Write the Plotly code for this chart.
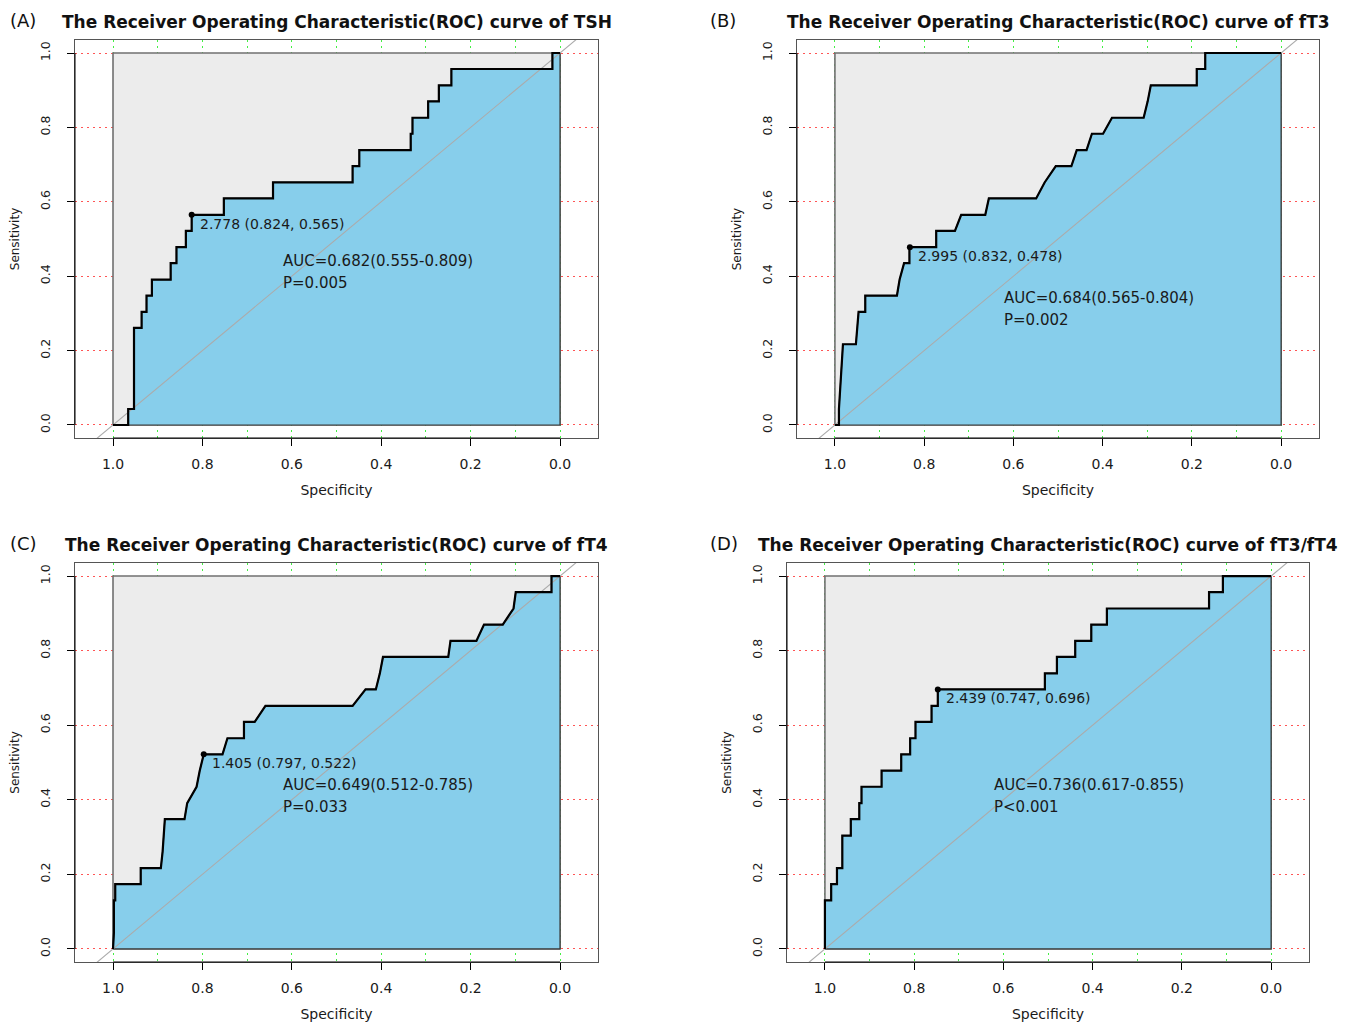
import plotly.graph_objects as go

# ---------------- data ----------------
panel_labels = ["(A)", "(B)", "(C)", "(D)"]
titles = [
    "The Receiver Operating Characteristic(ROC) curve of TSH",
    "The Receiver Operating Characteristic(ROC) curve of fT3",
    "The Receiver Operating Characteristic(ROC) curve of fT4",
    "The Receiver Operating Characteristic(ROC) curve of fT3/fT4",
]

spec_tsh = [1.0, 0.966, 0.966, 0.953, 0.953, 0.936, 0.936, 0.925, 0.925, 0.913, 0.913,
            0.871, 0.871, 0.858, 0.858, 0.837, 0.837, 0.824, 0.824, 0.752, 0.752,
            0.642, 0.642, 0.464, 0.464, 0.449, 0.449, 0.334, 0.334, 0.330, 0.330,
            0.295, 0.295, 0.271, 0.271, 0.243, 0.243, 0.017, 0.017, 0.0]
sens_tsh = [0.0, 0.0, 0.043, 0.043, 0.261, 0.261, 0.304, 0.304, 0.348, 0.348, 0.391,
            0.391, 0.435, 0.435, 0.478, 0.478, 0.522, 0.522, 0.565, 0.565, 0.609,
            0.609, 0.652, 0.652, 0.696, 0.696, 0.739, 0.739, 0.783, 0.783, 0.826,
            0.826, 0.870, 0.870, 0.913, 0.913, 0.957, 0.957, 1.0, 1.0]

spec_ft3 = [1.0, 0.991, 0.991, 0.989, 0.986, 0.985, 0.982, 0.953, 0.950, 0.947, 0.932,
            0.932, 0.861, 0.855, 0.845, 0.833, 0.833, 0.773, 0.773, 0.731, 0.717,
            0.663, 0.655, 0.549, 0.530, 0.505, 0.470, 0.458, 0.436, 0.424, 0.399,
            0.379, 0.308, 0.299, 0.292, 0.189, 0.189, 0.170, 0.170, 0.0]
sens_ft3 = [0.0, 0.0, 0.043, 0.087, 0.130, 0.174, 0.217, 0.217, 0.261, 0.304, 0.304,
            0.348, 0.348, 0.391, 0.435, 0.435, 0.478, 0.478, 0.522, 0.522, 0.565,
            0.565, 0.609, 0.609, 0.652, 0.696, 0.696, 0.739, 0.739, 0.783, 0.783,
            0.826, 0.826, 0.870, 0.913, 0.913, 0.957, 0.957, 1.0, 1.0]

spec_ft4 = [1.0, 0.998, 0.998, 0.995, 0.995, 0.938, 0.938, 0.893, 0.889, 0.887, 0.884,
            0.840, 0.834, 0.813, 0.806, 0.797, 0.755, 0.744, 0.707, 0.707, 0.683,
            0.659, 0.464, 0.435, 0.412, 0.403, 0.396, 0.250, 0.245, 0.187, 0.170,
            0.128, 0.104, 0.099, 0.019, 0.019, 0.0]
sens_ft4 = [0.0, 0.043, 0.130, 0.130, 0.174, 0.174, 0.217, 0.217, 0.261, 0.304, 0.348,
            0.348, 0.391, 0.435, 0.478, 0.522, 0.522, 0.565, 0.565, 0.609, 0.609,
            0.652, 0.652, 0.696, 0.696, 0.739, 0.783, 0.783, 0.826, 0.826, 0.870,
            0.870, 0.913, 0.957, 0.957, 1.0, 1.0]

spec_ratio = [1.0, 1.0, 0.986, 0.986, 0.973, 0.973, 0.961, 0.961, 0.942, 0.942, 0.923,
              0.923, 0.918, 0.918, 0.873, 0.873, 0.829, 0.829, 0.809, 0.809, 0.797,
              0.797, 0.761, 0.761, 0.747, 0.747, 0.507, 0.507, 0.480, 0.480, 0.439,
              0.439, 0.403, 0.403, 0.368, 0.368, 0.139, 0.139, 0.108, 0.108, 0.0]
sens_ratio = [0.0, 0.130, 0.130, 0.174, 0.174, 0.217, 0.217, 0.304, 0.304, 0.348, 0.348,
              0.391, 0.391, 0.435, 0.435, 0.478, 0.478, 0.522, 0.522, 0.565, 0.565,
              0.609, 0.609, 0.652, 0.652, 0.696, 0.696, 0.739, 0.739, 0.783, 0.783,
              0.826, 0.826, 0.870, 0.870, 0.913, 0.913, 0.957, 0.957, 1.0, 1.0]

best_spec = [0.824, 0.832, 0.797, 0.747]
best_sens = [0.565, 0.478, 0.522, 0.696]
best_cutoff = ["2.778", "2.995", "1.405", "2.439"]
auc_text = ["AUC=0.682(0.555-0.809)", "AUC=0.684(0.565-0.804)",
            "AUC=0.649(0.512-0.785)", "AUC=0.736(0.617-0.855)"]
p_text = ["P=0.005", "P=0.002", "P=0.033", "P<0.001"]
auc_label_y = [0.441, 0.341, 0.441, 0.441]
p_label_y = [0.382, 0.282, 0.382, 0.382]
label_x = 0.625

specs = [spec_tsh, spec_ft3, spec_ft4, spec_ratio]
senss = [sens_tsh, sens_ft3, sens_ft4, sens_ratio]

# ---------------- layout constants ----------------
W, H = 1351, 1022
X_RANGE = [1.085, -0.085]
Y_RANGE = [-0.035, 1.035]
# frame boxes in pixels: (left, right, top, bottom)
frames = [(75, 598, 40, 438), (797, 1319, 40, 438),
          (75, 598, 563, 962), (787, 1309, 563, 962)]

FONT = "DejaVu Sans"
GREY_FILL = "#ECECEC"
BLUE_FILL = "#87CEEB"

fig = go.Figure()
layout = dict(
    width=W, height=H, margin=dict(l=0, r=0, t=0, b=0),
    paper_bgcolor="white", plot_bgcolor="white", showlegend=False,
    font=dict(family=FONT, color="#1a1a1a"),
)
annotations = []
shapes = []

for i in range(4):
    n = "" if i == 0 else str(i + 1)
    xa, ya = "x" + n, "y" + n
    l, r, t, b = frames[i]
    sp, se = specs[i], senss[i]

    # max-AUC grey square
    sq_x = [max(sp), max(sp), min(sp), min(sp), max(sp)]
    sq_y = [min(se), max(se), max(se), min(se), min(se)]
    fig.add_trace(go.Scatter(x=sq_x, y=sq_y, xaxis=xa, yaxis=ya, mode="lines",
                             fill="toself", fillcolor=GREY_FILL,
                             line=dict(color="#707070", width=1.6), hoverinfo="skip"))
    # AUC polygon
    fig.add_trace(go.Scatter(x=sp + [min(sp), max(sp)], y=se + [min(se), min(se)],
                             xaxis=xa, yaxis=ya, mode="lines", fill="toself",
                             fillcolor=BLUE_FILL, line=dict(color="#3a3a3a", width=1.2),
                             hoverinfo="skip"))
    # chance diagonal (abline), spanning the whole axis range
    fig.add_trace(go.Scatter(x=[X_RANGE[0], X_RANGE[1]],
                             y=[1 - X_RANGE[0], 1 - X_RANGE[1]],
                             xaxis=xa, yaxis=ya, mode="lines",
                             line=dict(color="#ABABAB", width=1.1), hoverinfo="skip"))
    # ROC curve
    fig.add_trace(go.Scatter(x=sp, y=se, xaxis=xa, yaxis=ya, mode="lines",
                             line=dict(color="black", width=2.2), hoverinfo="skip"))
    # best threshold point
    fig.add_trace(go.Scatter(x=[best_spec[i]], y=[best_sens[i]], xaxis=xa, yaxis=ya,
                             mode="markers", marker=dict(color="black", size=6),
                             hoverinfo="skip"))

    xdom = [l / W, r / W]
    ydom = [1 - b / H, 1 - t / H]
    layout["xaxis" + n] = dict(
        domain=xdom, anchor=ya, range=X_RANGE, autorange=False,
        tickmode="array", tickvals=[1.0, 0.8, 0.6, 0.4, 0.2, 0.0],
        ticktext=["1.0", "0.8", "0.6", "0.4", "0.2", "0.0"],
        ticks="outside", ticklen=7, tickcolor="black", tickwidth=1,
        ticklabelstandoff=6,
        tickfont=dict(family=FONT, size=14, color="#1a1a1a"),
        showline=True, mirror=True, linecolor="#555", linewidth=1,
        showgrid=True, gridcolor="#44EE44", griddash="2px,4px", gridwidth=1,
        minor=dict(tickmode="array", tickvals=[0.9, 0.7, 0.5, 0.3, 0.1],
                   showgrid=True, gridcolor="#44EE44", griddash="2px,4px",
                   gridwidth=1, ticks=""),
        zeroline=False, fixedrange=True,
        title=dict(text="Specificity", font=dict(family=FONT, size=14, color="#1a1a1a"),
                   standoff=14),
    )
    layout["yaxis" + n] = dict(
        domain=ydom, anchor=xa, range=Y_RANGE, autorange=False,
        tickmode="array", tickvals=[0.0, 0.2, 0.4, 0.6, 0.8, 1.0],
        ticktext=["0.0", "0.2", "0.4", "0.6", "0.8", "1.0"],
        tickangle=-90,
        ticks="outside", ticklen=7, tickcolor="black", tickwidth=1,
        ticklabelstandoff=12,
        tickfont=dict(family=FONT, size=12.5, color="#1a1a1a"),
        showline=True, mirror=True, linecolor="#555", linewidth=1,
        showgrid=True, gridcolor="#FF5555", griddash="2px,4px", gridwidth=1,
        zeroline=False, fixedrange=True,
        title=dict(text="Sensitivity", font=dict(family=FONT, size=12, color="#1a1a1a"),
                   standoff=15),
    )

    # axis lines (from first to last tick) in black
    shapes.append(dict(type="line", xref=xa + " domain", yref=ya, x0=0, x1=0,
                       y0=0, y1=1, line=dict(color="black", width=1)))
    shapes.append(dict(type="line", xref=xa, yref=ya + " domain", x0=1, x1=0,
                       y0=0, y1=0, line=dict(color="black", width=1)))

    # texts
    annotations.append(dict(xref=xa, yref=ya, x=best_spec[i], y=best_sens[i],
                            text=f"{best_cutoff[i]} ({best_spec[i]:.3f}, {best_sens[i]:.3f})",
                            showarrow=False, xanchor="left", yanchor="middle",
                            xshift=6, yshift=-9,
                            font=dict(family=FONT, size=14, color="#1a1a1a")))
    annotations.append(dict(xref=xa, yref=ya, x=label_x, y=auc_label_y[i],
                            text=auc_text[i], showarrow=False, xanchor="left",
                            yanchor="middle", font=dict(family=FONT, size=15, color="#1a1a1a")))
    annotations.append(dict(xref=xa, yref=ya, x=label_x, y=p_label_y[i],
                            text=p_text[i], showarrow=False, xanchor="left",
                            yanchor="middle", font=dict(family=FONT, size=15, color="#1a1a1a")))
    # panel title
    annotations.append(dict(xref="paper", yref="paper", x=(l + r) / 2 / W,
                            y=1 - (t - 18) / H, text="<b>" + titles[i] + "</b>",
                            showarrow=False, xanchor="center", yanchor="middle",
                            font=dict(family=FONT, size=17, color="#111")))
    # panel label
    px_label = 8 if l < 400 else 708
    annotations.append(dict(xref="paper", yref="paper", x=px_label / W,
                            y=1 - (t - 20) / H, text=panel_labels[i],
                            showarrow=False, xanchor="left", yanchor="middle",
                            font=dict(family=FONT, size=18, color="#111")))

layout["annotations"] = annotations
layout["shapes"] = shapes
fig.update_layout(**layout)
fig.write_html("out.html")
